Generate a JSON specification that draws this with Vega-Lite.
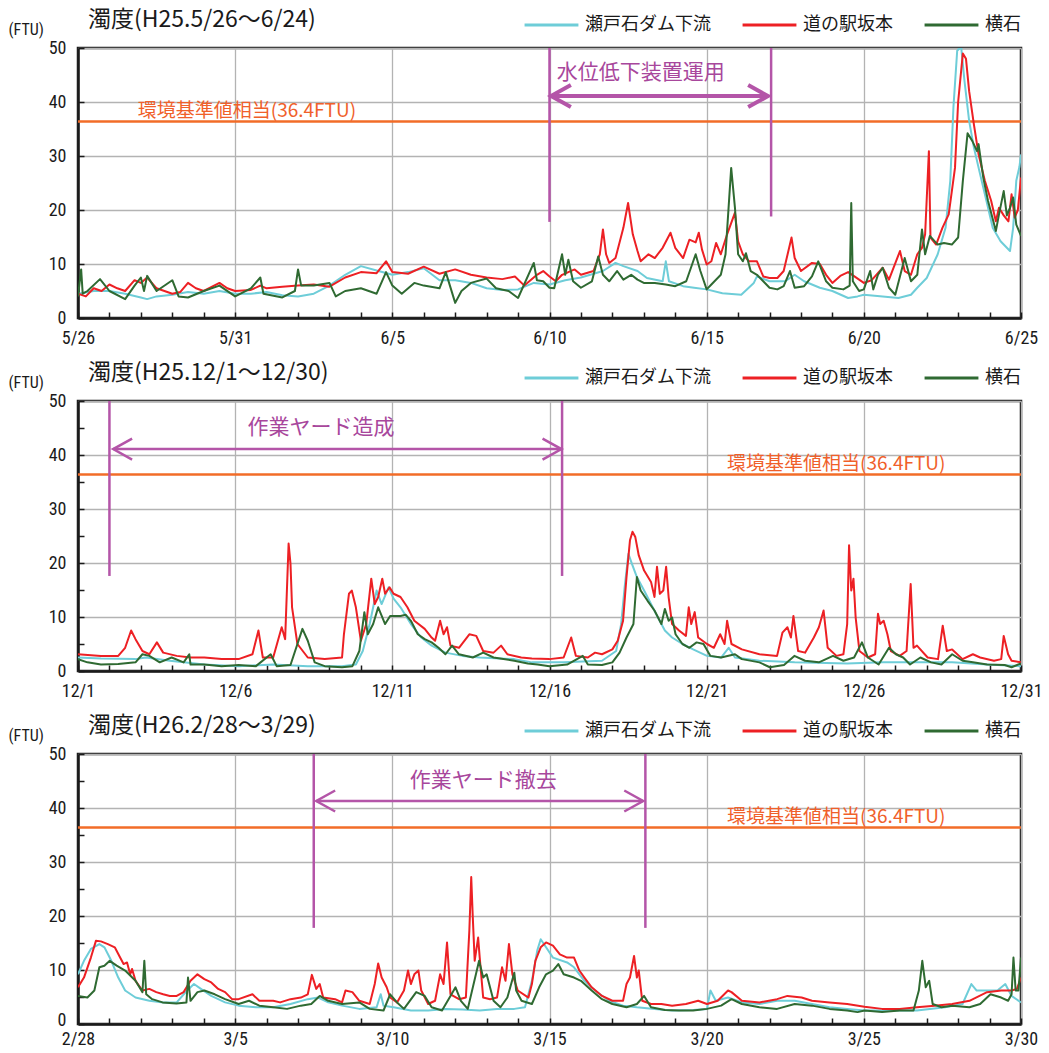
{
"$schema": "https://vega.github.io/schema/vega-lite/v6.json",
"padding": {"left": 6, "top": 7, "right": 10, "bottom": 2},
"background": "white",
"config": {
  "font": "Noto Sans CJK JP",
  "view": {"stroke": "#1a1a1a", "strokeWidth": 2.5},
  "axis": {"domainColor": "#1a1a1a", "domainWidth": 2.5, "tickColor": "#1a1a1a", "tickWidth": 1.5, "gridColor": "#b3b3b3", "gridWidth": 1.3, "labelFont": "Liberation Sans Narrow, Roboto Condensed, DejaVu Sans Condensed, Liberation Sans", "labelFontSize": 18, "labelColor": "#1a1a1a", "titleFont": "Liberation Sans Narrow, Roboto Condensed, DejaVu Sans Condensed, Liberation Sans", "titleFontSize": 16, "titleFontWeight": "normal", "titleColor": "#1a1a1a"},
  "legend": {"orient": "none", "legendX": 445, "legendY": -33, "direction": "horizontal", "symbolType": "stroke", "symbolSize": 2900, "symbolStrokeWidth": 3, "clipHeight": 20, "labelFont": "Noto Sans CJK JP", "labelFontSize": 18, "labelColor": "#1a1a1a", "columnPadding": 30, "labelOffset": 5, "padding": 0, "title": null},
  "title": {"font": "Noto Sans CJK JP", "fontSize": 23, "fontWeight": "normal", "color": "#1a1a1a", "anchor": "start", "frame": "group"}
},
"datasets": {
"p1": [
{"s":"瀬戸石ダム下流","d":0,"v":4.5},{"s":"瀬戸石ダム下流","d":0.5,"v":5},{"s":"瀬戸石ダム下流","d":1,"v":5},{"s":"瀬戸石ダム下流","d":1.5,"v":4.5},{"s":"瀬戸石ダム下流","d":2,"v":3.8},{"s":"瀬戸石ダム下流","d":2.2,"v":3.5},{"s":"瀬戸石ダム下流","d":2.5,"v":4},{"s":"瀬戸石ダム下流","d":3,"v":4.3},{"s":"瀬戸石ダム下流","d":3.5,"v":4.8},{"s":"瀬戸石ダム下流","d":4,"v":4.5},{"s":"瀬戸石ダム下流","d":4.5,"v":5},{"s":"瀬戸石ダム下流","d":5,"v":4.5},{"s":"瀬戸石ダム下流","d":5.5,"v":4.5},{"s":"瀬戸石ダム下流","d":6,"v":4.8},{"s":"瀬戸石ダム下流","d":6.5,"v":4.2},{"s":"瀬戸石ダム下流","d":7,"v":4},{"s":"瀬戸石ダム下流","d":7.5,"v":4.5},{"s":"瀬戸石ダム下流","d":8,"v":6},{"s":"瀬戸石ダム下流","d":8.5,"v":8},{"s":"瀬戸石ダム下流","d":9,"v":9.6},{"s":"瀬戸石ダム下流","d":9.5,"v":8.8},{"s":"瀬戸石ダム下流","d":10,"v":8},{"s":"瀬戸石ダム下流","d":10.5,"v":8.5},{"s":"瀬戸石ダム下流","d":11,"v":9.2},{"s":"瀬戸石ダム下流","d":11.5,"v":7},{"s":"瀬戸石ダム下流","d":12,"v":7},{"s":"瀬戸石ダム下流","d":12.5,"v":6.5},{"s":"瀬戸石ダム下流","d":13,"v":5.5},{"s":"瀬戸石ダム下流","d":13.5,"v":5.2},{"s":"瀬戸石ダム下流","d":14,"v":5.3},{"s":"瀬戸石ダム下流","d":14.5,"v":6.5},{"s":"瀬戸石ダム下流","d":15,"v":6.2},{"s":"瀬戸石ダム下流","d":15.5,"v":7},{"s":"瀬戸石ダム下流","d":16,"v":7.5},{"s":"瀬戸石ダム下流","d":16.7,"v":8.7},{"s":"瀬戸石ダム下流","d":17.1,"v":10.2},{"s":"瀬戸石ダム下流","d":17.35,"v":9.6},{"s":"瀬戸石ダム下流","d":17.8,"v":8.7},{"s":"瀬戸石ダム下流","d":18.1,"v":7.4},{"s":"瀬戸石ダム下流","d":18.6,"v":6.8},{"s":"瀬戸石ダム下流","d":18.7,"v":10.5},{"s":"瀬戸石ダム下流","d":18.8,"v":6.8},{"s":"瀬戸石ダム下流","d":19.25,"v":5.9},{"s":"瀬戸石ダム下流","d":19.6,"v":5.6},{"s":"瀬戸石ダム下流","d":20,"v":5.3},{"s":"瀬戸石ダム下流","d":20.5,"v":4.6},{"s":"瀬戸石ダム下流","d":21.1,"v":4.3},{"s":"瀬戸石ダム下流","d":21.5,"v":6.5},{"s":"瀬戸石ダム下流","d":21.6,"v":7.7},{"s":"瀬戸石ダム下流","d":22,"v":6.8},{"s":"瀬戸石ダム下流","d":22.5,"v":6.8},{"s":"瀬戸石ダム下流","d":22.8,"v":8},{"s":"瀬戸石ダム下流","d":23.1,"v":6.8},{"s":"瀬戸石ダム下流","d":23.6,"v":5.6},{"s":"瀬戸石ダム下流","d":24,"v":5},{"s":"瀬戸石ダム下流","d":24.5,"v":3.7},{"s":"瀬戸石ダム下流","d":24.8,"v":4},{"s":"瀬戸石ダム下流","d":25,"v":4.3},{"s":"瀬戸石ダム下流","d":25.6,"v":4},{"s":"瀬戸石ダム下流","d":26.1,"v":3.7},{"s":"瀬戸石ダム下流","d":26.5,"v":4.3},{"s":"瀬戸石ダム下流","d":26.7,"v":5.6},{"s":"瀬戸石ダム下流","d":27,"v":7.4},{"s":"瀬戸石ダム下流","d":27.35,"v":11.8},{"s":"瀬戸石ダム下流","d":27.6,"v":16.7},{"s":"瀬戸石ダム下流","d":27.75,"v":25.4},{"s":"瀬戸石ダム下流","d":27.85,"v":39},{"s":"瀬戸石ダム下流","d":27.97,"v":49.5},{"s":"瀬戸石ダム下流","d":28.05,"v":50},{"s":"瀬戸石ダム下流","d":28.1,"v":50},{"s":"瀬戸石ダム下流","d":28.2,"v":44},{"s":"瀬戸石ダム下流","d":28.35,"v":36.5},{"s":"瀬戸石ダム下流","d":28.5,"v":31.6},{"s":"瀬戸石ダム下流","d":28.7,"v":26.6},{"s":"瀬戸石ダム下流","d":28.9,"v":21.7},{"s":"瀬戸石ダム下流","d":29.1,"v":16.7},{"s":"瀬戸石ダム下流","d":29.35,"v":14.2},{"s":"瀬戸石ダム下流","d":29.55,"v":13},{"s":"瀬戸石ダム下流","d":29.65,"v":12.4},{"s":"瀬戸石ダム下流","d":29.75,"v":16.7},{"s":"瀬戸石ダム下流","d":29.85,"v":25.4},{"s":"瀬戸石ダム下流","d":29.95,"v":28},{"s":"瀬戸石ダム下流","d":30,"v":30.3},
{"s":"道の駅坂本","d":0,"v":4.5},{"s":"道の駅坂本","d":0.25,"v":4},{"s":"道の駅坂本","d":0.5,"v":5.5},{"s":"道の駅坂本","d":0.75,"v":5},{"s":"道の駅坂本","d":1,"v":6.2},{"s":"道の駅坂本","d":1.25,"v":5.5},{"s":"道の駅坂本","d":1.5,"v":5},{"s":"道の駅坂本","d":1.8,"v":7},{"s":"道の駅坂本","d":2,"v":6.5},{"s":"道の駅坂本","d":2.2,"v":7.5},{"s":"道の駅坂本","d":2.5,"v":5.5},{"s":"道の駅坂本","d":2.75,"v":5},{"s":"道の駅坂本","d":3,"v":4.5},{"s":"道の駅坂本","d":3.25,"v":4.8},{"s":"道の駅坂本","d":3.5,"v":6.5},{"s":"道の駅坂本","d":3.75,"v":5.5},{"s":"道の駅坂本","d":4,"v":5},{"s":"道の駅坂本","d":4.5,"v":6.5},{"s":"道の駅坂本","d":4.75,"v":5.5},{"s":"道の駅坂本","d":5,"v":5},{"s":"道の駅坂本","d":5.5,"v":5.2},{"s":"道の駅坂本","d":5.8,"v":6},{"s":"道の駅坂本","d":6,"v":5.5},{"s":"道の駅坂本","d":6.5,"v":5.8},{"s":"道の駅坂本","d":7,"v":6},{"s":"道の駅坂本","d":7.5,"v":6.2},{"s":"道の駅坂本","d":8,"v":5.8},{"s":"道の駅坂本","d":8.5,"v":7.5},{"s":"道の駅坂本","d":9,"v":8.5},{"s":"道の駅坂本","d":9.5,"v":8.3},{"s":"道の駅坂本","d":9.8,"v":10.5},{"s":"道の駅坂本","d":10,"v":8.5},{"s":"道の駅坂本","d":10.5,"v":8.2},{"s":"道の駅坂本","d":11,"v":9.5},{"s":"道の駅坂本","d":11.5,"v":8.2},{"s":"道の駅坂本","d":12,"v":9},{"s":"道の駅坂本","d":12.5,"v":8},{"s":"道の駅坂本","d":13,"v":7.5},{"s":"道の駅坂本","d":13.5,"v":7.2},{"s":"道の駅坂本","d":13.9,"v":7.7},{"s":"道の駅坂本","d":14.2,"v":6},{"s":"道の駅坂本","d":14.6,"v":8},{"s":"道の駅坂本","d":14.8,"v":8.7},{"s":"道の駅坂本","d":15,"v":7.7},{"s":"道の駅坂本","d":15.2,"v":6.8},{"s":"道の駅坂本","d":15.4,"v":8},{"s":"道の駅坂本","d":15.8,"v":9},{"s":"道の駅坂本","d":16,"v":8},{"s":"道の駅坂本","d":16.4,"v":8.7},{"s":"道の駅坂本","d":16.6,"v":11.8},{"s":"道の駅坂本","d":16.7,"v":16.4},{"s":"道の駅坂本","d":16.8,"v":11.8},{"s":"道の駅坂本","d":16.9,"v":10.2},{"s":"道の駅坂本","d":17.1,"v":11.1},{"s":"道の駅坂本","d":17.35,"v":16.7},{"s":"道の駅坂本","d":17.5,"v":21.3},{"s":"道の駅坂本","d":17.65,"v":15.5},{"s":"道の駅坂本","d":17.8,"v":12.4},{"s":"道の駅坂本","d":17.9,"v":10.5},{"s":"道の駅坂本","d":18.15,"v":11.8},{"s":"道の駅坂本","d":18.35,"v":11.1},{"s":"道の駅坂本","d":18.6,"v":13},{"s":"道の駅坂本","d":18.85,"v":15.8},{"s":"道の駅坂本","d":19,"v":13},{"s":"道の駅坂本","d":19.25,"v":11.1},{"s":"道の駅坂本","d":19.45,"v":14.5},{"s":"道の駅坂本","d":19.65,"v":14},{"s":"道の駅坂本","d":19.75,"v":15.8},{"s":"道の駅坂本","d":19.85,"v":12.7},{"s":"道の駅坂本","d":20,"v":9.9},{"s":"道の駅坂本","d":20.15,"v":10.5},{"s":"道の駅坂本","d":20.3,"v":13.9},{"s":"道の駅坂本","d":20.45,"v":11.8},{"s":"道の駅坂本","d":20.65,"v":15.5},{"s":"道の駅坂本","d":20.9,"v":19.5},{"s":"道の駅坂本","d":21,"v":14.2},{"s":"道の駅坂本","d":21.15,"v":11.8},{"s":"道の駅坂本","d":21.35,"v":10.5},{"s":"道の駅坂本","d":21.6,"v":10.5},{"s":"道の駅坂本","d":21.8,"v":7.7},{"s":"道の駅坂本","d":22,"v":7.4},{"s":"道の駅坂本","d":22.25,"v":7.4},{"s":"道の駅坂本","d":22.45,"v":8.7},{"s":"道の駅坂本","d":22.7,"v":14.9},{"s":"道の駅坂本","d":22.8,"v":11.1},{"s":"道の駅坂本","d":23,"v":8.7},{"s":"道の駅坂本","d":23.35,"v":10.2},{"s":"道の駅坂本","d":23.6,"v":10},{"s":"道の駅坂本","d":23.8,"v":8},{"s":"道の駅坂本","d":24,"v":6.5},{"s":"道の駅坂本","d":24.25,"v":7.8},{"s":"道の駅坂本","d":24.5,"v":8.5},{"s":"道の駅坂本","d":24.7,"v":7.7},{"s":"道の駅坂本","d":25,"v":6.5},{"s":"道の駅坂本","d":25.25,"v":7},{"s":"道の駅坂本","d":25.6,"v":9.3},{"s":"道の駅坂本","d":25.8,"v":7.1},{"s":"道の駅坂本","d":26.15,"v":12.4},{"s":"道の駅坂本","d":26.3,"v":8.7},{"s":"道の駅坂本","d":26.5,"v":8},{"s":"道の駅坂本","d":26.7,"v":11.8},{"s":"道の駅坂本","d":26.85,"v":13},{"s":"道の駅坂本","d":26.95,"v":15.5},{"s":"道の駅坂本","d":27.07,"v":30.9},{"s":"道の駅坂本","d":27.12,"v":14.9},{"s":"道の駅坂本","d":27.3,"v":13.6},{"s":"道の駅坂本","d":27.5,"v":16.7},{"s":"道の駅坂本","d":27.7,"v":19.2},{"s":"道の駅坂本","d":27.9,"v":27.8},{"s":"道の駅坂本","d":28,"v":40},{"s":"道の駅坂本","d":28.15,"v":49},{"s":"道の駅坂本","d":28.25,"v":48},{"s":"道の駅坂本","d":28.35,"v":42},{"s":"道の駅坂本","d":28.5,"v":35.9},{"s":"道の駅坂本","d":28.65,"v":30.3},{"s":"道の駅坂本","d":28.85,"v":25.4},{"s":"道の駅坂本","d":29.05,"v":21.7},{"s":"道の駅坂本","d":29.2,"v":17.9},{"s":"道の駅坂本","d":29.3,"v":20.4},{"s":"道の駅坂本","d":29.45,"v":19},{"s":"道の駅坂本","d":29.6,"v":17.9},{"s":"道の駅坂本","d":29.7,"v":22.9},{"s":"道の駅坂本","d":29.8,"v":18.6},{"s":"道の駅坂本","d":29.9,"v":20},{"s":"道の駅坂本","d":30,"v":26},
{"s":"横石","d":0,"v":4},{"s":"横石","d":0.1,"v":9},{"s":"横石","d":0.15,"v":4.5},{"s":"横石","d":0.3,"v":5},{"s":"横石","d":0.7,"v":7.2},{"s":"横石","d":1,"v":5},{"s":"横石","d":1.5,"v":3.5},{"s":"横石","d":1.8,"v":6},{"s":"横石","d":2,"v":7.5},{"s":"横石","d":2.1,"v":5},{"s":"横石","d":2.2,"v":7.8},{"s":"横石","d":2.5,"v":5},{"s":"横石","d":3,"v":7},{"s":"横石","d":3.2,"v":4},{"s":"横石","d":3.5,"v":3.8},{"s":"横石","d":4,"v":5},{"s":"横石","d":4.5,"v":6},{"s":"横石","d":5,"v":4},{"s":"横石","d":5.5,"v":5.5},{"s":"横石","d":5.8,"v":7.5},{"s":"横石","d":5.9,"v":4.5},{"s":"横石","d":6.5,"v":3.8},{"s":"横石","d":6.9,"v":5},{"s":"横石","d":7,"v":9},{"s":"横石","d":7.1,"v":6},{"s":"横石","d":7.5,"v":6},{"s":"横石","d":8,"v":6.5},{"s":"横石","d":8.2,"v":4},{"s":"横石","d":8.5,"v":5},{"s":"横石","d":9,"v":5.5},{"s":"横石","d":9.5,"v":4.5},{"s":"横石","d":9.8,"v":8.5},{"s":"横石","d":10,"v":6},{"s":"横石","d":10.3,"v":4.5},{"s":"横石","d":10.7,"v":6.5},{"s":"横石","d":11,"v":6},{"s":"横石","d":11.5,"v":5.5},{"s":"横石","d":11.7,"v":8.5},{"s":"横石","d":12,"v":2.8},{"s":"横石","d":12.2,"v":5},{"s":"横石","d":12.5,"v":6.5},{"s":"横石","d":13,"v":7.3},{"s":"横石","d":13.3,"v":5.5},{"s":"横石","d":13.7,"v":5},{"s":"横石","d":14,"v":3.7},{"s":"横石","d":14.5,"v":10.2},{"s":"横石","d":14.6,"v":7},{"s":"横石","d":14.8,"v":6.8},{"s":"横石","d":15,"v":5.6},{"s":"横石","d":15.15,"v":5.5},{"s":"横石","d":15.4,"v":11.8},{"s":"横石","d":15.5,"v":8},{"s":"横石","d":15.6,"v":10.8},{"s":"横石","d":15.75,"v":6.8},{"s":"横石","d":16,"v":5.6},{"s":"横石","d":16.35,"v":6.8},{"s":"横石","d":16.55,"v":11.4},{"s":"横石","d":16.7,"v":8},{"s":"横石","d":16.9,"v":6.8},{"s":"横石","d":17.15,"v":8.7},{"s":"横石","d":17.35,"v":7.1},{"s":"横石","d":17.6,"v":8},{"s":"横石","d":17.8,"v":7.1},{"s":"横石","d":18,"v":6.5},{"s":"横石","d":18.35,"v":6.5},{"s":"横石","d":18.7,"v":6.2},{"s":"横石","d":19,"v":5.9},{"s":"横石","d":19.35,"v":6.8},{"s":"横石","d":19.65,"v":11.8},{"s":"横石","d":19.8,"v":8.7},{"s":"横石","d":20,"v":5.3},{"s":"横石","d":20.15,"v":6.2},{"s":"横石","d":20.45,"v":8},{"s":"横石","d":20.6,"v":11.8},{"s":"横石","d":20.78,"v":27.8},{"s":"横石","d":20.9,"v":20.4},{"s":"横石","d":21,"v":11.8},{"s":"横石","d":21.15,"v":10.5},{"s":"横石","d":21.25,"v":12},{"s":"横石","d":21.4,"v":8.7},{"s":"横石","d":21.6,"v":8},{"s":"横石","d":21.8,"v":6.8},{"s":"横石","d":22,"v":5.6},{"s":"横石","d":22.25,"v":5.3},{"s":"横石","d":22.45,"v":5.9},{"s":"横石","d":22.65,"v":8.7},{"s":"横石","d":22.8,"v":5.6},{"s":"横石","d":23.1,"v":5.9},{"s":"横石","d":23.35,"v":7.7},{"s":"横石","d":23.55,"v":10.5},{"s":"横石","d":23.8,"v":6.8},{"s":"横石","d":24,"v":5.6},{"s":"横石","d":24.35,"v":5.3},{"s":"横石","d":24.55,"v":6},{"s":"横石","d":24.6,"v":21.3},{"s":"横石","d":24.65,"v":6.8},{"s":"横石","d":24.85,"v":5},{"s":"横石","d":25,"v":5.3},{"s":"横石","d":25.2,"v":8.7},{"s":"横石","d":25.3,"v":5.3},{"s":"横石","d":25.45,"v":8},{"s":"横石","d":25.6,"v":9.3},{"s":"横石","d":25.8,"v":5.6},{"s":"横石","d":26,"v":4.3},{"s":"横石","d":26.3,"v":11.1},{"s":"横石","d":26.5,"v":6.8},{"s":"横石","d":26.7,"v":8},{"s":"横石","d":26.85,"v":16.4},{"s":"横石","d":26.95,"v":11.8},{"s":"横石","d":27.1,"v":15.2},{"s":"横石","d":27.35,"v":13.6},{"s":"横石","d":27.55,"v":13.9},{"s":"横石","d":27.8,"v":13.6},{"s":"横石","d":28,"v":14.9},{"s":"横石","d":28.15,"v":25.4},{"s":"横石","d":28.3,"v":34.2},{"s":"横石","d":28.45,"v":32.8},{"s":"横石","d":28.6,"v":30.9},{"s":"横石","d":28.65,"v":32.2},{"s":"横石","d":28.8,"v":26},{"s":"横石","d":28.95,"v":21.7},{"s":"横石","d":29.2,"v":16.1},{"s":"横石","d":29.3,"v":19.2},{"s":"横石","d":29.45,"v":23.5},{"s":"横石","d":29.55,"v":19},{"s":"横石","d":29.65,"v":20.4},{"s":"横石","d":29.75,"v":22.3},{"s":"横石","d":29.85,"v":17.3},{"s":"横石","d":30,"v":15.2}
],
"p2": [
{"s":"瀬戸石ダム下流","d":0,"v":2.5},{"s":"瀬戸石ダム下流","d":0.73,"v":2.3},{"s":"瀬戸石ダム下流","d":1.83,"v":2.2},{"s":"瀬戸石ダム下流","d":2.16,"v":2.5},{"s":"瀬戸石ダム下流","d":2.92,"v":1.9},{"s":"瀬戸石ダム下流","d":4.02,"v":1.2},{"s":"瀬戸石ダム下流","d":5.11,"v":0.9},{"s":"瀬戸石ダム下流","d":6.21,"v":1.2},{"s":"瀬戸石ダム下流","d":7.31,"v":0.9},{"s":"瀬戸石ダム下流","d":8.4,"v":0.9},{"s":"瀬戸石ダム下流","d":8.84,"v":1.2},{"s":"瀬戸石ダム下流","d":9.06,"v":3.7},{"s":"瀬戸石ダム下流","d":9.28,"v":8.7},{"s":"瀬戸石ダム下流","d":9.5,"v":14.9},{"s":"瀬戸石ダム下流","d":9.66,"v":12.4},{"s":"瀬戸石ダム下流","d":9.88,"v":15.5},{"s":"瀬戸石ダム下流","d":10.04,"v":13.4},{"s":"瀬戸石ダム下流","d":10.26,"v":11.8},{"s":"瀬戸石ダム下流","d":10.59,"v":8.7},{"s":"瀬戸石ダム下流","d":10.92,"v":6.2},{"s":"瀬戸石ダム下流","d":11.25,"v":4.7},{"s":"瀬戸石ダム下流","d":11.69,"v":3.4},{"s":"瀬戸石ダム下流","d":12.23,"v":2.8},{"s":"瀬戸石ダム下流","d":12.78,"v":2.5},{"s":"瀬戸石ダム下流","d":13.88,"v":2.2},{"s":"瀬戸石ダム下流","d":14.44,"v":1.6},{"s":"瀬戸石ダム下流","d":15.45,"v":1.6},{"s":"瀬戸石ダム下流","d":16.67,"v":1.9},{"s":"瀬戸石ダム下流","d":17.12,"v":3.7},{"s":"瀬戸石ダム下流","d":17.28,"v":8.7},{"s":"瀬戸石ダム下流","d":17.39,"v":15.5},{"s":"瀬戸石ダム下流","d":17.51,"v":21.7},{"s":"瀬戸石ダム下流","d":17.62,"v":19.9},{"s":"瀬戸石ダム下流","d":17.78,"v":17.4},{"s":"瀬戸石ダム下流","d":18.01,"v":14.9},{"s":"瀬戸石ダム下流","d":18.23,"v":12.4},{"s":"瀬戸石ダム下流","d":18.45,"v":9.9},{"s":"瀬戸石ダム下流","d":18.67,"v":7.5},{"s":"瀬戸石ダム下流","d":18.9,"v":6.2},{"s":"瀬戸石ダム下流","d":19.23,"v":5},{"s":"瀬戸石ダム下流","d":19.57,"v":4},{"s":"瀬戸石ダム下流","d":19.79,"v":3.4},{"s":"瀬戸石ダム下流","d":20.01,"v":2.8},{"s":"瀬戸石ダム下流","d":20.46,"v":2.5},{"s":"瀬戸石ダム下流","d":20.7,"v":4.3},{"s":"瀬戸石ダム下流","d":20.9,"v":2.5},{"s":"瀬戸石ダム下流","d":21.68,"v":1.9},{"s":"瀬戸石ダム下流","d":22.8,"v":1.6},{"s":"瀬戸石ダム下流","d":24.47,"v":1.4},{"s":"瀬戸石ダム下流","d":25.58,"v":1.6},{"s":"瀬戸石ダム下流","d":26.69,"v":1.6},{"s":"瀬戸石ダム下流","d":27.81,"v":1.6},{"s":"瀬戸石ダム下流","d":28.92,"v":1.2},{"s":"瀬戸石ダム下流","d":30,"v":0.9},
{"s":"道の駅坂本","d":0,"v":3.1},{"s":"道の駅坂本","d":0.73,"v":2.8},{"s":"道の駅坂本","d":1.28,"v":2.8},{"s":"道の駅坂本","d":1.5,"v":4.3},{"s":"道の駅坂本","d":1.69,"v":7.5},{"s":"道の駅坂本","d":1.83,"v":5.9},{"s":"道の駅坂本","d":2.05,"v":3.7},{"s":"道の駅坂本","d":2.27,"v":3.1},{"s":"道の駅坂本","d":2.51,"v":5.3},{"s":"道の駅坂本","d":2.71,"v":3.4},{"s":"道の駅坂本","d":3.14,"v":2.8},{"s":"道の駅坂本","d":3.58,"v":2.5},{"s":"道の駅坂本","d":4.02,"v":2.5},{"s":"道の駅坂本","d":4.57,"v":2.2},{"s":"道の駅坂本","d":5.11,"v":2.2},{"s":"道の駅坂本","d":5.55,"v":3.1},{"s":"道の駅坂本","d":5.74,"v":7.5},{"s":"道の駅坂本","d":5.88,"v":2.5},{"s":"道の駅坂本","d":6.21,"v":2.5},{"s":"道の駅坂本","d":6.48,"v":8.1},{"s":"道の駅坂本","d":6.59,"v":5.9},{"s":"道の駅坂本","d":6.7,"v":23.6},{"s":"道の駅坂本","d":6.76,"v":19.9},{"s":"道の駅坂本","d":6.81,"v":11.8},{"s":"道の駅坂本","d":6.98,"v":5},{"s":"道の駅坂本","d":7.31,"v":2.5},{"s":"道の駅坂本","d":7.85,"v":2.2},{"s":"道の駅坂本","d":8.4,"v":2.5},{"s":"道の駅坂本","d":8.46,"v":6.8},{"s":"道の駅坂本","d":8.62,"v":14.3},{"s":"道の駅坂本","d":8.71,"v":14.9},{"s":"道の駅坂本","d":8.84,"v":11.8},{"s":"道の駅坂本","d":9,"v":5.6},{"s":"道の駅坂本","d":9.17,"v":8.7},{"s":"道の駅坂本","d":9.33,"v":17.1},{"s":"道の駅坂本","d":9.44,"v":12.4},{"s":"道の駅坂本","d":9.55,"v":13.7},{"s":"道の駅坂本","d":9.68,"v":17.1},{"s":"道の駅坂本","d":9.77,"v":14.3},{"s":"道の駅坂本","d":9.91,"v":15.5},{"s":"道の駅坂本","d":10.04,"v":14.3},{"s":"道の駅坂本","d":10.26,"v":13.7},{"s":"道の駅坂本","d":10.48,"v":11.8},{"s":"道の駅坂本","d":10.7,"v":9.3},{"s":"道の駅坂本","d":11.03,"v":7.8},{"s":"道の駅坂本","d":11.25,"v":6.2},{"s":"道の駅坂本","d":11.36,"v":5.6},{"s":"道の駅坂本","d":11.52,"v":9.3},{"s":"道の駅坂本","d":11.63,"v":6.8},{"s":"道の駅坂本","d":11.74,"v":8.1},{"s":"道の駅坂本","d":11.85,"v":4.7},{"s":"道の駅坂本","d":12.12,"v":4.3},{"s":"道の駅坂本","d":12.45,"v":6.8},{"s":"道の駅坂本","d":12.67,"v":6.5},{"s":"道の駅坂本","d":12.89,"v":3.7},{"s":"道の駅坂本","d":13.22,"v":3.4},{"s":"道の駅坂本","d":13.46,"v":4.7},{"s":"道の駅坂本","d":13.66,"v":3.1},{"s":"道の駅坂本","d":14.1,"v":2.5},{"s":"道の駅坂本","d":14.44,"v":2.3},{"s":"道の駅坂本","d":15,"v":2.2},{"s":"道の駅坂本","d":15.45,"v":2.5},{"s":"道の駅坂本","d":15.69,"v":6.2},{"s":"道の駅坂本","d":15.84,"v":2.8},{"s":"道の駅坂本","d":16.22,"v":2.5},{"s":"道の駅坂本","d":16.45,"v":3.4},{"s":"道の駅坂本","d":16.67,"v":3.1},{"s":"道の駅坂本","d":17,"v":4},{"s":"道の駅坂本","d":17.17,"v":5.6},{"s":"道の駅坂本","d":17.34,"v":9.3},{"s":"道の駅坂本","d":17.45,"v":17.4},{"s":"道の駅坂本","d":17.56,"v":24.2},{"s":"道の駅坂本","d":17.64,"v":25.8},{"s":"道の駅坂本","d":17.73,"v":24.8},{"s":"道の駅坂本","d":17.84,"v":21.4},{"s":"道の駅坂本","d":18.01,"v":18.6},{"s":"道の駅坂本","d":18.23,"v":16.5},{"s":"道の駅坂本","d":18.34,"v":13.7},{"s":"道の駅坂本","d":18.42,"v":19.3},{"s":"道の駅坂本","d":18.51,"v":14.3},{"s":"道の駅坂本","d":18.62,"v":14.9},{"s":"道の駅坂本","d":18.71,"v":19.3},{"s":"道の駅坂本","d":18.79,"v":13.7},{"s":"道の駅坂本","d":18.9,"v":8.7},{"s":"道の駅坂本","d":19.12,"v":7.5},{"s":"道の駅坂本","d":19.34,"v":6.5},{"s":"道の駅坂本","d":19.43,"v":11.8},{"s":"道の駅坂本","d":19.51,"v":8.7},{"s":"道の駅坂本","d":19.62,"v":10.9},{"s":"道の駅坂本","d":19.73,"v":6.2},{"s":"道の駅坂本","d":20.01,"v":5},{"s":"道の駅坂本","d":20.23,"v":4.3},{"s":"道の駅坂本","d":20.43,"v":6.8},{"s":"道の駅坂本","d":20.57,"v":5},{"s":"道の駅坂本","d":20.65,"v":9.3},{"s":"道の駅坂本","d":20.79,"v":5},{"s":"道の駅坂本","d":21.12,"v":4},{"s":"道の駅坂本","d":21.68,"v":3.1},{"s":"道の駅坂本","d":22.24,"v":2.8},{"s":"道の駅坂本","d":22.41,"v":7.1},{"s":"道の駅坂本","d":22.57,"v":8.1},{"s":"道の駅坂本","d":22.68,"v":6.2},{"s":"道の駅坂本","d":22.76,"v":10.2},{"s":"道の駅坂本","d":22.91,"v":3.7},{"s":"道の駅坂本","d":23.13,"v":3.4},{"s":"道の駅坂本","d":23.41,"v":6.2},{"s":"道の駅坂本","d":23.57,"v":8.1},{"s":"道の駅坂本","d":23.72,"v":11.2},{"s":"道の駅坂本","d":23.85,"v":4.3},{"s":"道の駅坂本","d":24.13,"v":2.8},{"s":"道の駅坂本","d":24.35,"v":3.1},{"s":"道の駅坂本","d":24.47,"v":8.7},{"s":"道の駅坂本","d":24.53,"v":23.3},{"s":"道の駅坂本","d":24.6,"v":14.9},{"s":"道の駅坂本","d":24.67,"v":17.1},{"s":"道の駅坂本","d":24.74,"v":9.9},{"s":"道の駅坂本","d":24.86,"v":3.7},{"s":"道の駅坂本","d":25.13,"v":2.5},{"s":"道の駅坂本","d":25.36,"v":3.1},{"s":"道の駅坂本","d":25.45,"v":10.6},{"s":"道の駅坂本","d":25.52,"v":8.7},{"s":"道の駅坂本","d":25.63,"v":9.3},{"s":"道の駅坂本","d":25.75,"v":6.8},{"s":"道の駅坂本","d":25.86,"v":3.7},{"s":"道の駅坂本","d":26.14,"v":2.8},{"s":"道の駅坂本","d":26.36,"v":3.7},{"s":"道の駅坂本","d":26.49,"v":16.1},{"s":"道の駅坂本","d":26.58,"v":4.3},{"s":"道の駅坂本","d":26.69,"v":4.7},{"s":"道の駅坂本","d":27.03,"v":2.5},{"s":"道の駅坂本","d":27.36,"v":2.2},{"s":"道の駅坂本","d":27.51,"v":8.4},{"s":"道の駅坂本","d":27.64,"v":3.7},{"s":"道の駅坂本","d":27.81,"v":4},{"s":"道の駅坂本","d":28.14,"v":2.2},{"s":"道の駅坂本","d":28.47,"v":3.1},{"s":"道の駅坂本","d":28.7,"v":2.5},{"s":"道の駅坂本","d":29.14,"v":1.9},{"s":"道の駅坂本","d":29.37,"v":2.2},{"s":"道の駅坂本","d":29.45,"v":6.5},{"s":"道の駅坂本","d":29.59,"v":3.1},{"s":"道の駅坂本","d":29.7,"v":1.9},{"s":"道の駅坂本","d":30,"v":1.6},
{"s":"横石","d":0,"v":2.2},{"s":"横石","d":0.3,"v":1.6},{"s":"横石","d":0.73,"v":1.2},{"s":"横石","d":1.28,"v":1.3},{"s":"横石","d":1.83,"v":1.6},{"s":"横石","d":2.05,"v":3.1},{"s":"横石","d":2.27,"v":2.8},{"s":"横石","d":2.6,"v":1.6},{"s":"横石","d":2.98,"v":2.5},{"s":"横石","d":3.36,"v":1.6},{"s":"横石","d":3.54,"v":3.1},{"s":"横石","d":3.58,"v":1.2},{"s":"横石","d":4.02,"v":1.2},{"s":"横石","d":4.57,"v":0.9},{"s":"横石","d":5.11,"v":1.1},{"s":"横石","d":5.66,"v":0.9},{"s":"横石","d":6.13,"v":3.1},{"s":"横石","d":6.32,"v":0.9},{"s":"横石","d":6.76,"v":1.1},{"s":"横石","d":7.14,"v":7.8},{"s":"横石","d":7.31,"v":5.6},{"s":"横石","d":7.53,"v":1.6},{"s":"横石","d":7.85,"v":0.9},{"s":"横石","d":8.4,"v":0.7},{"s":"横石","d":8.73,"v":0.9},{"s":"横石","d":8.95,"v":3.7},{"s":"横石","d":9.11,"v":10.9},{"s":"横石","d":9.22,"v":6.8},{"s":"横石","d":9.39,"v":8.7},{"s":"横石","d":9.55,"v":11.8},{"s":"横石","d":9.77,"v":8.7},{"s":"横石","d":9.93,"v":10.2},{"s":"横石","d":10.26,"v":10.2},{"s":"横石","d":10.43,"v":10.4},{"s":"横石","d":10.59,"v":9.3},{"s":"横石","d":10.81,"v":6.8},{"s":"横石","d":11.03,"v":5.9},{"s":"横石","d":11.25,"v":5.3},{"s":"横石","d":11.47,"v":4.3},{"s":"横石","d":11.69,"v":3.1},{"s":"横石","d":11.9,"v":4.7},{"s":"横石","d":12.12,"v":3.1},{"s":"横石","d":12.56,"v":2.5},{"s":"横石","d":12.89,"v":3.4},{"s":"横石","d":13.22,"v":2.5},{"s":"横石","d":13.88,"v":1.9},{"s":"横石","d":14.31,"v":1.4},{"s":"横石","d":14.62,"v":1.2},{"s":"横石","d":15,"v":0.9},{"s":"横石","d":15.56,"v":1.2},{"s":"横石","d":16.06,"v":2.8},{"s":"横石","d":16.22,"v":1.2},{"s":"横石","d":16.67,"v":1.1},{"s":"横石","d":17,"v":1.6},{"s":"横石","d":17.23,"v":3.4},{"s":"横石","d":17.45,"v":6.2},{"s":"横石","d":17.67,"v":8.7},{"s":"横石","d":17.78,"v":17.4},{"s":"横石","d":17.9,"v":14.9},{"s":"横石","d":18.12,"v":13},{"s":"横石","d":18.34,"v":11.2},{"s":"横石","d":18.56,"v":8.7},{"s":"横石","d":18.67,"v":11.5},{"s":"横石","d":18.79,"v":9.3},{"s":"横石","d":18.9,"v":9.9},{"s":"横石","d":19.01,"v":6.8},{"s":"横石","d":19.23,"v":5},{"s":"横石","d":19.45,"v":4.3},{"s":"横石","d":19.68,"v":5.3},{"s":"横石","d":19.9,"v":5},{"s":"横石","d":20.12,"v":2.8},{"s":"横石","d":20.46,"v":2.5},{"s":"横石","d":20.9,"v":3.1},{"s":"横石","d":21.12,"v":2.2},{"s":"横石","d":21.68,"v":1.6},{"s":"横石","d":22.01,"v":0.7},{"s":"横石","d":22.46,"v":1.1},{"s":"横石","d":22.79,"v":2.8},{"s":"横石","d":23.13,"v":1.9},{"s":"横石","d":23.57,"v":1.6},{"s":"横石","d":24.02,"v":2.8},{"s":"横石","d":24.35,"v":1.9},{"s":"横石","d":24.69,"v":2.5},{"s":"横石","d":24.94,"v":5.3},{"s":"横石","d":25.13,"v":2.5},{"s":"横石","d":25.47,"v":1.2},{"s":"横石","d":25.8,"v":4.3},{"s":"横石","d":26.02,"v":3.1},{"s":"横石","d":26.25,"v":2.5},{"s":"横石","d":26.47,"v":1.2},{"s":"横石","d":26.8,"v":2.5},{"s":"横石","d":27.14,"v":1.6},{"s":"横石","d":27.47,"v":1.2},{"s":"横石","d":27.81,"v":3.1},{"s":"横石","d":28.14,"v":1.9},{"s":"横石","d":28.47,"v":1.6},{"s":"横石","d":28.92,"v":1.2},{"s":"横石","d":29.48,"v":1.1},{"s":"横石","d":29.7,"v":0.7},{"s":"横石","d":30,"v":1.4}
],
"p3": [
{"s":"瀬戸石ダム下流","d":0,"v":9.2},{"s":"瀬戸石ダム下流","d":0.19,"v":11.7},{"s":"瀬戸石ダム下流","d":0.41,"v":13.9},{"s":"瀬戸石ダム下流","d":0.68,"v":14.8},{"s":"瀬戸石ダム下流","d":0.84,"v":14.2},{"s":"瀬戸石ダム下流","d":1.06,"v":11.7},{"s":"瀬戸石ダム下流","d":1.28,"v":8.6},{"s":"瀬戸石ダム下流","d":1.5,"v":6.2},{"s":"瀬戸石ダム下流","d":1.83,"v":4.9},{"s":"瀬戸石ダム下流","d":2.27,"v":4.3},{"s":"瀬戸石ダム下流","d":2.71,"v":4},{"s":"瀬戸石ダム下流","d":3.14,"v":4},{"s":"瀬戸石ダム下流","d":3.47,"v":6.2},{"s":"瀬戸石ダム下流","d":3.69,"v":7.4},{"s":"瀬戸石ダム下流","d":3.91,"v":6.5},{"s":"瀬戸石ダム下流","d":4.24,"v":5.2},{"s":"瀬戸石ダム下流","d":4.68,"v":4},{"s":"瀬戸石ダム下流","d":5.11,"v":3.4},{"s":"瀬戸石ダム下流","d":5.66,"v":3.1},{"s":"瀬戸石ダム下流","d":6.21,"v":3.1},{"s":"瀬戸石ダム下流","d":6.76,"v":3.7},{"s":"瀬戸石ダム下流","d":7.31,"v":4.6},{"s":"瀬戸石ダム下流","d":7.64,"v":4.9},{"s":"瀬戸石ダム下流","d":7.96,"v":4},{"s":"瀬戸石ダム下流","d":8.4,"v":3.4},{"s":"瀬戸石ダム下流","d":8.95,"v":2.8},{"s":"瀬戸石ダム下流","d":9.5,"v":3.1},{"s":"瀬戸石ダム下流","d":9.63,"v":5.5},{"s":"瀬戸石ダム下流","d":9.72,"v":3.4},{"s":"瀬戸石ダム下流","d":10.04,"v":3.1},{"s":"瀬戸石ダム下流","d":10.59,"v":2.5},{"s":"瀬戸石ダム下流","d":11.14,"v":2.5},{"s":"瀬戸石ダム下流","d":11.69,"v":2.8},{"s":"瀬戸石ダム下流","d":12.23,"v":2.7},{"s":"瀬戸石ダム下流","d":12.78,"v":2.5},{"s":"瀬戸石ダム下流","d":13.33,"v":2.8},{"s":"瀬戸石ダム下流","d":13.88,"v":2.8},{"s":"瀬戸石ダム下流","d":14.22,"v":3.1},{"s":"瀬戸石ダム下流","d":14.44,"v":8},{"s":"瀬戸石ダム下流","d":14.61,"v":13.6},{"s":"瀬戸石ダム下流","d":14.72,"v":15.7},{"s":"瀬戸石ダム下流","d":14.89,"v":14.2},{"s":"瀬戸石ダム下流","d":15.11,"v":12.3},{"s":"瀬戸石ダム下流","d":15.56,"v":11.4},{"s":"瀬戸石ダム下流","d":15.78,"v":10.5},{"s":"瀬戸石ダム下流","d":16.11,"v":8},{"s":"瀬戸石ダム下流","d":16.45,"v":6.2},{"s":"瀬戸石ダム下流","d":16.89,"v":4.3},{"s":"瀬戸石ダム下流","d":17.34,"v":3.4},{"s":"瀬戸石ダム下流","d":17.78,"v":3.1},{"s":"瀬戸石ダム下流","d":18.34,"v":2.8},{"s":"瀬戸石ダム下流","d":18.9,"v":2.5},{"s":"瀬戸石ダム下流","d":19.57,"v":2.6},{"s":"瀬戸石ダム下流","d":20.01,"v":2.8},{"s":"瀬戸石ダム下流","d":20.12,"v":6.2},{"s":"瀬戸石ダム下流","d":20.29,"v":4.3},{"s":"瀬戸石ダム下流","d":20.68,"v":4.9},{"s":"瀬戸石ダム下流","d":21.12,"v":4},{"s":"瀬戸石ダム下流","d":21.68,"v":3.7},{"s":"瀬戸石ダム下流","d":22.24,"v":4.3},{"s":"瀬戸石ダム下流","d":22.8,"v":4.3},{"s":"瀬戸石ダム下流","d":23.35,"v":3.7},{"s":"瀬戸石ダム下流","d":23.91,"v":3.1},{"s":"瀬戸石ダム下流","d":24.47,"v":2.8},{"s":"瀬戸石ダム下流","d":25.02,"v":2.5},{"s":"瀬戸石ダム下流","d":25.58,"v":2.5},{"s":"瀬戸石ダム下流","d":26.69,"v":2.5},{"s":"瀬戸石ダム下流","d":27.58,"v":3.1},{"s":"瀬戸石ダム下流","d":28.14,"v":3.7},{"s":"瀬戸石ダム下流","d":28.42,"v":7.4},{"s":"瀬戸石ダム下流","d":28.59,"v":6.2},{"s":"瀬戸石ダム下流","d":28.92,"v":6.2},{"s":"瀬戸石ダム下流","d":29.25,"v":6.2},{"s":"瀬戸石ダム下流","d":29.5,"v":7.4},{"s":"瀬戸石ダム下流","d":29.7,"v":5.2},{"s":"瀬戸石ダム下流","d":30,"v":4},
{"s":"道の駅坂本","d":0,"v":6.8},{"s":"道の駅坂本","d":0.19,"v":8.6},{"s":"道の駅坂本","d":0.41,"v":12.3},{"s":"道の駅坂本","d":0.57,"v":15.4},{"s":"道の駅坂本","d":0.73,"v":15.3},{"s":"道の駅坂本","d":0.95,"v":14.8},{"s":"道の駅坂本","d":1.17,"v":14.2},{"s":"道の駅坂本","d":1.34,"v":12.3},{"s":"道の駅坂本","d":1.45,"v":11.1},{"s":"道の駅坂本","d":1.56,"v":11.4},{"s":"道の駅坂本","d":1.66,"v":9.2},{"s":"道の駅坂本","d":1.72,"v":10.2},{"s":"道の駅坂本","d":1.83,"v":8},{"s":"道の駅坂本","d":2.05,"v":6.2},{"s":"道の駅坂本","d":2.27,"v":6.5},{"s":"道の駅坂本","d":2.49,"v":5.9},{"s":"道の駅坂本","d":2.71,"v":5.5},{"s":"道の駅坂本","d":2.92,"v":5.2},{"s":"道の駅坂本","d":3.14,"v":5.2},{"s":"道の駅坂本","d":3.36,"v":5.9},{"s":"道の駅坂本","d":3.58,"v":8},{"s":"道の駅坂本","d":3.8,"v":9.2},{"s":"道の駅坂本","d":4.02,"v":8.3},{"s":"道の駅坂本","d":4.24,"v":7.7},{"s":"道の駅坂本","d":4.46,"v":6.5},{"s":"道の駅坂本","d":4.68,"v":5.9},{"s":"道の駅坂本","d":4.9,"v":4.6},{"s":"道の駅坂本","d":5.11,"v":4.6},{"s":"道の駅坂本","d":5.55,"v":5.5},{"s":"道の駅坂本","d":5.77,"v":4.3},{"s":"道の駅坂本","d":6.21,"v":4.3},{"s":"道の駅坂本","d":6.43,"v":4},{"s":"道の駅坂本","d":6.76,"v":4.6},{"s":"道の駅坂本","d":7.09,"v":4.9},{"s":"道の駅坂本","d":7.31,"v":5.5},{"s":"道の駅坂本","d":7.44,"v":9.1},{"s":"道の駅坂本","d":7.58,"v":6.5},{"s":"道の駅坂本","d":7.69,"v":7.4},{"s":"道の駅坂本","d":7.8,"v":4.9},{"s":"道の駅坂本","d":8.18,"v":4.6},{"s":"道の駅坂本","d":8.4,"v":4},{"s":"道の駅坂本","d":8.51,"v":6.2},{"s":"道の駅坂本","d":8.73,"v":5.9},{"s":"道の駅坂本","d":8.95,"v":4.3},{"s":"道の駅坂本","d":9.28,"v":3.7},{"s":"道の駅坂本","d":9.44,"v":7.4},{"s":"道の駅坂本","d":9.55,"v":11.2},{"s":"道の駅坂本","d":9.66,"v":8.6},{"s":"道の駅坂本","d":9.82,"v":6.8},{"s":"道の駅坂本","d":9.93,"v":4.9},{"s":"道の駅坂本","d":10.15,"v":4},{"s":"道の駅坂本","d":10.37,"v":6.2},{"s":"道の駅坂本","d":10.5,"v":9.9},{"s":"道の駅坂本","d":10.59,"v":7.4},{"s":"道の駅坂本","d":10.7,"v":9.2},{"s":"道の駅坂本","d":10.83,"v":9.9},{"s":"道の駅坂本","d":10.92,"v":6.2},{"s":"道の駅坂本","d":11.14,"v":3.7},{"s":"道の駅坂本","d":11.36,"v":4.3},{"s":"道の駅坂本","d":11.52,"v":9.2},{"s":"道の駅坂本","d":11.63,"v":7.4},{"s":"道の駅坂本","d":11.74,"v":15.1},{"s":"道の駅坂本","d":11.85,"v":5.5},{"s":"道の駅坂本","d":12.12,"v":4.6},{"s":"道の駅坂本","d":12.34,"v":4.9},{"s":"道の駅坂本","d":12.45,"v":17.3},{"s":"道の駅坂本","d":12.51,"v":27.2},{"s":"道の駅坂本","d":12.56,"v":19.7},{"s":"道の駅坂本","d":12.62,"v":11.7},{"s":"道の駅坂本","d":12.73,"v":16},{"s":"道の駅坂本","d":12.78,"v":12.3},{"s":"道の駅坂本","d":12.89,"v":4.9},{"s":"道の駅坂本","d":13.11,"v":4.6},{"s":"道の駅坂本","d":13.33,"v":4.9},{"s":"道の駅坂本","d":13.49,"v":10.5},{"s":"道の駅坂本","d":13.6,"v":8},{"s":"道の駅坂本","d":13.71,"v":14.8},{"s":"道の駅坂本","d":13.82,"v":9.2},{"s":"道の駅坂本","d":13.99,"v":6.2},{"s":"道の駅坂本","d":14.33,"v":4.9},{"s":"道の駅坂本","d":14.44,"v":7.4},{"s":"道の駅坂本","d":14.55,"v":11.7},{"s":"道の駅坂本","d":14.72,"v":14.2},{"s":"道の駅坂本","d":14.89,"v":15.1},{"s":"道の駅坂本","d":15.11,"v":14.5},{"s":"道の駅坂本","d":15.33,"v":12.9},{"s":"道の駅坂本","d":15.56,"v":12.3},{"s":"道の駅坂本","d":15.78,"v":12.3},{"s":"道の駅坂本","d":15.95,"v":9.9},{"s":"道の駅坂本","d":16.11,"v":8.6},{"s":"道の駅坂本","d":16.34,"v":6.8},{"s":"道の駅坂本","d":16.67,"v":5.2},{"s":"道の駅坂本","d":17,"v":4.3},{"s":"道の駅坂本","d":17.34,"v":4.3},{"s":"道の駅坂本","d":17.45,"v":7.4},{"s":"道の駅坂本","d":17.56,"v":8.6},{"s":"道の駅坂本","d":17.69,"v":12.6},{"s":"道の駅坂本","d":17.78,"v":8.6},{"s":"道の駅坂本","d":17.84,"v":9.9},{"s":"道の駅坂本","d":17.95,"v":4.3},{"s":"道の駅坂本","d":18.23,"v":3.7},{"s":"道の駅坂本","d":18.56,"v":3.7},{"s":"道の駅坂本","d":18.9,"v":3.4},{"s":"道の駅坂本","d":19.34,"v":3.7},{"s":"道の駅坂本","d":19.73,"v":4.3},{"s":"道の駅坂本","d":20.01,"v":3.7},{"s":"道の駅坂本","d":20.35,"v":4.3},{"s":"道の駅坂本","d":20.68,"v":6.2},{"s":"道の駅坂本","d":20.79,"v":5.9},{"s":"道の駅坂本","d":21.12,"v":4.3},{"s":"道の駅坂本","d":21.68,"v":4},{"s":"道の駅坂本","d":22.24,"v":4.6},{"s":"道の駅坂本","d":22.57,"v":5.2},{"s":"道の駅坂本","d":23.02,"v":4.9},{"s":"道の駅坂本","d":23.35,"v":4.3},{"s":"道の駅坂本","d":23.91,"v":4},{"s":"道の駅坂本","d":24.47,"v":3.7},{"s":"道の駅坂本","d":25.02,"v":3.2},{"s":"道の駅坂本","d":25.58,"v":2.8},{"s":"道の駅坂本","d":26.14,"v":2.8},{"s":"道の駅坂本","d":26.69,"v":3.1},{"s":"道の駅坂本","d":27.25,"v":3.4},{"s":"道の駅坂本","d":27.81,"v":3.7},{"s":"道の駅坂本","d":28.36,"v":4.3},{"s":"道の駅坂本","d":28.92,"v":5.9},{"s":"道の駅坂本","d":29.37,"v":6.2},{"s":"道の駅坂本","d":29.7,"v":6.2},{"s":"道の駅坂本","d":29.87,"v":6.5},{"s":"道の駅坂本","d":30,"v":8.6},
{"s":"横石","d":0,"v":5.2},{"s":"横石","d":0.3,"v":4.9},{"s":"横石","d":0.52,"v":6.2},{"s":"横石","d":0.68,"v":10.5},{"s":"横石","d":0.84,"v":10.8},{"s":"横石","d":1.01,"v":11.7},{"s":"横石","d":1.23,"v":10.8},{"s":"横石","d":1.5,"v":9.9},{"s":"横石","d":1.83,"v":8},{"s":"横石","d":2.05,"v":5.9},{"s":"横石","d":2.11,"v":11.7},{"s":"横石","d":2.17,"v":5.5},{"s":"横石","d":2.36,"v":4.6},{"s":"横石","d":2.69,"v":4},{"s":"横石","d":3.13,"v":3.8},{"s":"横石","d":3.45,"v":4},{"s":"横石","d":3.5,"v":8.6},{"s":"横石","d":3.58,"v":4.3},{"s":"横石","d":3.8,"v":5.9},{"s":"横石","d":4.02,"v":6.2},{"s":"横石","d":4.35,"v":5.5},{"s":"横石","d":4.68,"v":4.6},{"s":"横石","d":5.11,"v":3.7},{"s":"横石","d":5.44,"v":4.3},{"s":"横石","d":5.77,"v":3.4},{"s":"横石","d":6.21,"v":3.1},{"s":"横石","d":6.65,"v":2.8},{"s":"横石","d":7.09,"v":3.4},{"s":"横石","d":7.42,"v":3.7},{"s":"横石","d":7.69,"v":5.2},{"s":"横石","d":7.96,"v":4.3},{"s":"横石","d":8.4,"v":3.7},{"s":"横石","d":8.95,"v":4},{"s":"横石","d":9.28,"v":2.8},{"s":"横石","d":9.72,"v":2.5},{"s":"横石","d":9.93,"v":5.5},{"s":"横石","d":10.15,"v":4},{"s":"横石","d":10.37,"v":2.8},{"s":"横石","d":10.76,"v":5.9},{"s":"横石","d":11.03,"v":5.2},{"s":"横石","d":11.25,"v":3.1},{"s":"横石","d":11.58,"v":2.5},{"s":"横石","d":11.85,"v":5.2},{"s":"横石","d":12.01,"v":6.8},{"s":"横石","d":12.18,"v":4.3},{"s":"横石","d":12.4,"v":2.8},{"s":"横石","d":12.76,"v":11.7},{"s":"横石","d":12.89,"v":8.6},{"s":"横石","d":13,"v":9.2},{"s":"横石","d":13.22,"v":4.3},{"s":"横石","d":13.44,"v":3.1},{"s":"横石","d":13.66,"v":4.9},{"s":"横石","d":13.88,"v":9.5},{"s":"横石","d":13.94,"v":6.2},{"s":"横石","d":14.11,"v":4.3},{"s":"横石","d":14.44,"v":3.7},{"s":"横石","d":14.67,"v":6.8},{"s":"横石","d":14.89,"v":9.2},{"s":"横石","d":15.11,"v":9.9},{"s":"横石","d":15.28,"v":11.1},{"s":"横石","d":15.45,"v":9.2},{"s":"横石","d":15.78,"v":8.6},{"s":"横石","d":16,"v":8},{"s":"横石","d":16.34,"v":6.2},{"s":"横石","d":16.67,"v":4.6},{"s":"横石","d":17,"v":3.7},{"s":"横石","d":17.45,"v":3.1},{"s":"横石","d":17.78,"v":3.7},{"s":"横石","d":18.01,"v":5.2},{"s":"横石","d":18.23,"v":3.1},{"s":"横石","d":18.67,"v":2.6},{"s":"横石","d":19.12,"v":2.5},{"s":"横石","d":19.57,"v":2.5},{"s":"横石","d":20.01,"v":2.8},{"s":"横石","d":20.46,"v":3.4},{"s":"横石","d":20.79,"v":4.6},{"s":"横石","d":21.12,"v":3.7},{"s":"横石","d":21.68,"v":3.1},{"s":"横石","d":22.24,"v":2.8},{"s":"横石","d":22.8,"v":3.7},{"s":"横石","d":23.35,"v":3.4},{"s":"横石","d":23.91,"v":2.8},{"s":"横石","d":24.47,"v":2.5},{"s":"横石","d":24.8,"v":2.2},{"s":"横石","d":25.02,"v":2.5},{"s":"横石","d":25.58,"v":2.2},{"s":"横石","d":26.14,"v":2.5},{"s":"横石","d":26.58,"v":2.5},{"s":"横石","d":26.75,"v":6.2},{"s":"横石","d":26.86,"v":11.7},{"s":"横石","d":26.97,"v":6.8},{"s":"横石","d":27.08,"v":8},{"s":"横石","d":27.19,"v":3.7},{"s":"横石","d":27.47,"v":3.1},{"s":"横石","d":27.81,"v":3.4},{"s":"横石","d":28.36,"v":3.1},{"s":"横石","d":28.7,"v":3.7},{"s":"横石","d":29.03,"v":5.5},{"s":"横石","d":29.37,"v":4.9},{"s":"横石","d":29.59,"v":4.3},{"s":"横石","d":29.7,"v":5.5},{"s":"横石","d":29.76,"v":12.3},{"s":"横石","d":29.83,"v":6.2},{"s":"横石","d":29.92,"v":6.2},{"s":"横石","d":30,"v":12.3}
]
},
"resolve": {"scale": {"color": "independent", "shape": "independent"}, "legend": {"color": "independent"}},
"bounds": "flush",
"spacing": 83,
"vconcat": [
{
 "width": 943, "height": 270,
 "title": {"text": "濁度(H25.5/26～6/24)", "dx": 10, "offset": -17},
 "encoding": {
  "x": {"field": "d", "type": "quantitative", "title": null, "scale": {"domain": [0, 30], "nice": false, "zero": false},
    "axis": {"values": [0,1,2,3,4,5,6,7,8,9,10,11,12,13,14,15,16,17,18,19,20,21,22,23,24,25,26,27,28,29,30], "labelExpr": "datum.value % 5 == 0 ? timeFormat(datetime(2013, 4, 26 + datum.value), '%-m/%-d') : ''", "gridOpacity": {"condition": {"test": "datum.value % 5 == 0", "value": 1}, "value": 0}, "tickSize": -6, "labelPadding": 17, "labelOverlap": false, "labelBound": false, "labelFlush": false}},
  "y": {"field": "v", "type": "quantitative", "title": "(FTU)", "scale": {"domain": [0, 50], "nice": false},
    "axis": {"values": [0,10,20,30,40,50], "tickSize": -6, "labelPadding": 18, "titleAngle": 0, "titleAlign": "left", "titleBaseline": "alphabetic", "titleX": -70, "titleY": -14, "titleFontSize": 16}}
 },
 "layer": [
  {"data": {"values": [{"d": 0, "d2": 30, "v": 36.4}]}, "mark": {"type": "rule", "color": "#f26c28", "strokeWidth": 2.5}, "encoding": {"x2": {"field": "d2"}}},
  {"data": {"name": "p1"}, "mark": {"type": "line", "clip": true, "strokeWidth": 2, "strokeJoin": "round"},
   "encoding": {"color": {"field": "s", "type": "nominal", "scale": {"domain": ["瀬戸石ダム下流", "道の駅坂本", "横石"], "range": ["#6ecdd8", "#ed2024", "#2f6a32"]}}}},
  {"data": {"values": [{"d": 1.9, "v": 36.4, "t": "環境基準値相当(36.4FTU)"}]}, "mark": {"type": "text", "align": "left", "baseline": "alphabetic", "dy": -4, "fontSize": 19, "color": "#f0602a"}, "encoding": {"text": {"field": "t"}}},
  {"data": {"values": [{"d": 15, "v": 50, "v2": 17.8}, {"d": 22.05, "v": 50, "v2": 18.8}]}, "mark": {"type": "rule", "color": "#b455a8", "strokeWidth": 2.5}, "encoding": {"y2": {"field": "v2"}}},
  {"data": {"values": [{"d": 15.05, "d2": 21.95, "v": 41.1}]}, "mark": {"type": "rule", "color": "#b455a8", "strokeWidth": 4}, "encoding": {"x2": {"field": "d2"}}},
  {"data": {"values": [{"d": 15.05, "v": 41.1, "h": "L"}, {"d": 21.95, "v": 41.1, "h": "R"}]}, "mark": {"type": "point", "filled": false, "color": "#b455a8", "strokeWidth": 4, "size": 484, "opacity": 1}, "encoding": {"shape": {"field": "h", "type": "nominal", "scale": {"domain": ["L", "R"], "range": ["M1.8,-1L0,0L1.8,1", "M-1.8,-1L0,0L-1.8,1"]}, "legend": null}}},
  {"data": {"values": [{"d": 17.9, "v": 45.3, "t": "水位低下装置運用"}]}, "mark": {"type": "text", "align": "center", "baseline": "middle", "fontSize": 21, "color": "#a8479c"}, "encoding": {"text": {"field": "t"}}}
 ]
},
{
 "width": 943, "height": 270,
 "title": {"text": "濁度(H25.12/1～12/30)", "dx": 10, "offset": -17},
 "encoding": {
  "x": {"field": "d", "type": "quantitative", "title": null, "scale": {"domain": [0, 30], "nice": false, "zero": false},
    "axis": {"values": [0,1,2,3,4,5,6,7,8,9,10,11,12,13,14,15,16,17,18,19,20,21,22,23,24,25,26,27,28,29,30], "labelExpr": "datum.value % 5 == 0 ? timeFormat(datetime(2013, 11, 1 + datum.value), '%-m/%-d') : ''", "gridOpacity": {"condition": {"test": "datum.value % 5 == 0", "value": 1}, "value": 0}, "tickSize": -6, "labelPadding": 17, "labelOverlap": false, "labelBound": false, "labelFlush": false}},
  "y": {"field": "v", "type": "quantitative", "title": "(FTU)", "scale": {"domain": [0, 50], "nice": false},
    "axis": {"values": [0,5,10,15,20,25,30,35,40,45,50], "labelExpr": "datum.value % 10 == 0 ? datum.label : ''", "gridOpacity": {"condition": {"test": "datum.value % 10 == 0", "value": 1}, "value": 0}, "tickSize": -6, "labelPadding": 18, "labelOverlap": false, "titleAngle": 0, "titleAlign": "left", "titleBaseline": "alphabetic", "titleX": -70, "titleY": -14, "titleFontSize": 16}}
 },
 "layer": [
  {"data": {"values": [{"d": 0, "d2": 30, "v": 36.4}]}, "mark": {"type": "rule", "color": "#f26c28", "strokeWidth": 2.5}, "encoding": {"x2": {"field": "d2"}}},
  {"data": {"name": "p2"}, "mark": {"type": "line", "clip": true, "strokeWidth": 2, "strokeJoin": "round"},
   "encoding": {"color": {"field": "s", "type": "nominal", "scale": {"domain": ["瀬戸石ダム下流", "道の駅坂本", "横石"], "range": ["#6ecdd8", "#ed2024", "#2f6a32"]}}}},
  {"data": {"values": [{"d": 20.65, "v": 36.4, "t": "環境基準値相当(36.4FTU)"}]}, "mark": {"type": "text", "align": "left", "baseline": "alphabetic", "dy": -4, "fontSize": 19, "color": "#f0602a"}, "encoding": {"text": {"field": "t"}}},
  {"data": {"values": [{"d": 1.0, "v": 50, "v2": 17.6}, {"d": 15.4, "v": 50, "v2": 17.6}]}, "mark": {"type": "rule", "color": "#b455a8", "strokeWidth": 2.5}, "encoding": {"y2": {"field": "v2"}}},
  {"data": {"values": [{"d": 1.12, "d2": 15.38, "v": 41.1}]}, "mark": {"type": "rule", "color": "#b455a8", "strokeWidth": 2.5}, "encoding": {"x2": {"field": "d2"}}},
  {"data": {"values": [{"d": 1.12, "v": 41.1, "h": "L"}, {"d": 15.38, "v": 41.1, "h": "R"}]}, "mark": {"type": "point", "filled": false, "color": "#b455a8", "strokeWidth": 2.5, "size": 441, "opacity": 1}, "encoding": {"shape": {"field": "h", "type": "nominal", "scale": {"domain": ["L", "R"], "range": ["M1.8,-1L0,0L1.8,1", "M-1.8,-1L0,0L-1.8,1"]}, "legend": null}}},
  {"data": {"values": [{"d": 7.73, "v": 45, "t": "作業ヤード造成"}]}, "mark": {"type": "text", "align": "center", "baseline": "middle", "fontSize": 21, "color": "#a8479c"}, "encoding": {"text": {"field": "t"}}}
 ]
},
{
 "width": 943, "height": 270,
 "title": {"text": "濁度(H26.2/28～3/29)", "dx": 10, "offset": -17},
 "encoding": {
  "x": {"field": "d", "type": "quantitative", "title": null, "scale": {"domain": [0, 30], "nice": false, "zero": false},
    "axis": {"values": [0,1,2,3,4,5,6,7,8,9,10,11,12,13,14,15,16,17,18,19,20,21,22,23,24,25,26,27,28,29,30], "labelExpr": "datum.value % 5 == 0 ? timeFormat(datetime(2014, 1, 28 + datum.value), '%-m/%-d') : ''", "gridOpacity": {"condition": {"test": "datum.value % 5 == 0", "value": 1}, "value": 0}, "tickSize": -6, "labelPadding": 12, "labelOverlap": false, "labelBound": false, "labelFlush": false}},
  "y": {"field": "v", "type": "quantitative", "title": "(FTU)", "scale": {"domain": [0, 50], "nice": false},
    "axis": {"values": [0,5,10,15,20,25,30,35,40,45,50], "labelExpr": "datum.value % 10 == 0 ? datum.label : ''", "labelOffset": {"condition": {"test": "datum.value == 0", "value": -4}, "value": 0}, "gridOpacity": {"condition": {"test": "datum.value % 10 == 0", "value": 1}, "value": 0}, "tickSize": -6, "labelPadding": 18, "labelOverlap": false, "titleAngle": 0, "titleAlign": "left", "titleBaseline": "alphabetic", "titleX": -70, "titleY": -14, "titleFontSize": 16}}
 },
 "layer": [
  {"data": {"values": [{"d": 0, "d2": 30, "v": 36.4}]}, "mark": {"type": "rule", "color": "#f26c28", "strokeWidth": 2.5}, "encoding": {"x2": {"field": "d2"}}},
  {"data": {"name": "p3"}, "mark": {"type": "line", "clip": true, "strokeWidth": 2, "strokeJoin": "round"},
   "encoding": {"color": {"field": "s", "type": "nominal", "scale": {"domain": ["瀬戸石ダム下流", "道の駅坂本", "横石"], "range": ["#6ecdd8", "#ed2024", "#2f6a32"]}}}},
  {"data": {"values": [{"d": 20.65, "v": 36.4, "t": "環境基準値相当(36.4FTU)"}]}, "mark": {"type": "text", "align": "left", "baseline": "alphabetic", "dy": -4, "fontSize": 19, "color": "#f0602a"}, "encoding": {"text": {"field": "t"}}},
  {"data": {"values": [{"d": 7.5, "v": 50, "v2": 17.8}, {"d": 18.05, "v": 50, "v2": 17.8}]}, "mark": {"type": "rule", "color": "#b455a8", "strokeWidth": 2.5}, "encoding": {"y2": {"field": "v2"}}},
  {"data": {"values": [{"d": 7.58, "d2": 17.98, "v": 41.3}]}, "mark": {"type": "rule", "color": "#b455a8", "strokeWidth": 2.5}, "encoding": {"x2": {"field": "d2"}}},
  {"data": {"values": [{"d": 7.58, "v": 41.3, "h": "L"}, {"d": 17.98, "v": 41.3, "h": "R"}]}, "mark": {"type": "point", "filled": false, "color": "#b455a8", "strokeWidth": 2.5, "size": 441, "opacity": 1}, "encoding": {"shape": {"field": "h", "type": "nominal", "scale": {"domain": ["L", "R"], "range": ["M1.8,-1L0,0L1.8,1", "M-1.8,-1L0,0L-1.8,1"]}, "legend": null}}},
  {"data": {"values": [{"d": 12.89, "v": 45, "t": "作業ヤード撤去"}]}, "mark": {"type": "text", "align": "center", "baseline": "middle", "fontSize": 21, "color": "#a8479c"}, "encoding": {"text": {"field": "t"}}}
 ]
}
]
}
